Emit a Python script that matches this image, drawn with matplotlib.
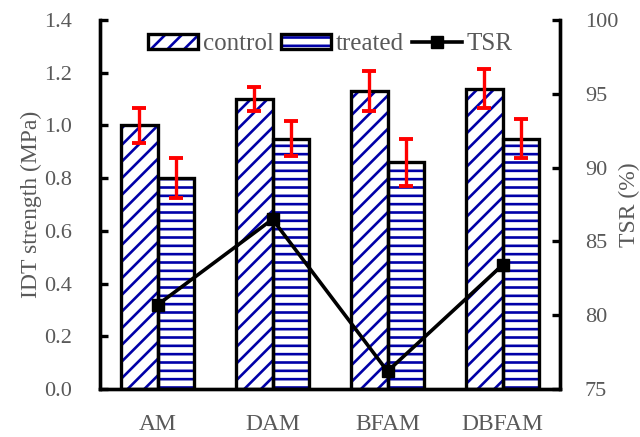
import matplotlib
matplotlib.use("Agg")
import matplotlib.pyplot as plt
import numpy as np
from matplotlib.patches import Patch
from matplotlib.lines import Line2D
from matplotlib.legend_handler import HandlerTuple

categories = ["AM", "DAM", "BFAM", "DBFAM"]
control = [1.00, 1.10, 1.13, 1.14]
control_err = [0.065, 0.045, 0.075, 0.075]
treated = [0.80, 0.95, 0.86, 0.95]
treated_err = [0.075, 0.065, 0.09, 0.075]
tsr = [80.7, 86.5, 76.2, 83.4]

plt.rcParams['font.family'] = ['Liberation Serif', 'DejaVu Serif']
plt.rcParams['hatch.linewidth'] = 1.9
TXT = '#595959'
BLUE = '#0000A8'

fig = plt.figure(figsize=(6.4, 4.37), dpi=100)
ax = fig.add_axes([100/640, 1-389/437, 460/640, 369/437])
ax2 = ax.twinx()

x = np.arange(len(categories))
w = 0.32

def hatched_bars(pos, vals, hatch):
    ax.bar(pos, vals, w, color='white', edgecolor=BLUE, linewidth=0,
           hatch=hatch, zorder=2)
    ax.bar(pos, vals, w, color='none', edgecolor='black', linewidth=2.4, zorder=3)

hatched_bars(x - w/2, control, '//')
hatched_bars(x + w/2, treated, '--')

ax.errorbar(x - w/2, control, yerr=control_err, fmt='none', ecolor='red',
            elinewidth=2.4, capsize=5, capthick=2.8, zorder=4)
ax.errorbar(x + w/2, treated, yerr=treated_err, fmt='none', ecolor='red',
            elinewidth=2.4, capsize=5, capthick=2.8, zorder=4)

ax2.plot(x, tsr, color='black', linewidth=2.6, marker='s', markersize=8.5,
         zorder=5)

ax.set_xlim(-0.5, 3.5)
ax.set_ylim(0, 1.4)
yt = np.arange(0, 1.41, 0.2)
ax.set_yticks(yt)
ax.set_yticklabels([f"{v:.1f}" for v in yt])
ax2.set_ylim(75, 100)
ax2.set_yticks([75, 80, 85, 90, 95, 100])

ax.set_xticks(x)
ax.set_xticklabels(categories)

for a in (ax, ax2):
    for s in a.spines.values():
        s.set_linewidth(2.4)
    a.spines['top'].set_visible(False)

ax.tick_params(axis='x', length=0, pad=18, labelsize=17, labelcolor=TXT)
ax.tick_params(axis='y', direction='in', length=6, width=2.4, pad=20,
               labelsize=16, labelcolor=TXT)
ax2.tick_params(axis='y', direction='in', length=6, width=2.4, pad=18,
                labelsize=16, labelcolor=TXT)

ax.set_ylabel("IDT strength (MPa)", fontsize=17, color=TXT, labelpad=2)
ax2.set_ylabel("TSR (%)", fontsize=17, color=TXT, labelpad=0)

h_c = Patch(facecolor='white', edgecolor=BLUE, linewidth=0, hatch='//')
h_t = Patch(facecolor='white', edgecolor=BLUE, linewidth=0, hatch='--')
o1 = Patch(facecolor='none', edgecolor='black', linewidth=2.4)
o2 = Patch(facecolor='none', edgecolor='black', linewidth=2.4)
l_t = Line2D([], [], color='black', linewidth=2.6, marker='s', markersize=8.5)

leg = ax2.legend([(h_c, o1), (h_t, o2), l_t], ["control", "treated", "TSR"],
                 handler_map={tuple: HandlerTuple(ndivide=1, pad=0)},
                 loc='center', bbox_to_anchor=(0.5, 0.934), ncol=3,
                 frameon=False, fontsize=18, handlelength=2.0, handleheight=0.55,
                 handletextpad=0.2, columnspacing=0.3, borderaxespad=0)
for t in leg.get_texts():
    t.set_color(TXT)

fig.savefig("out.png", dpi=100)
